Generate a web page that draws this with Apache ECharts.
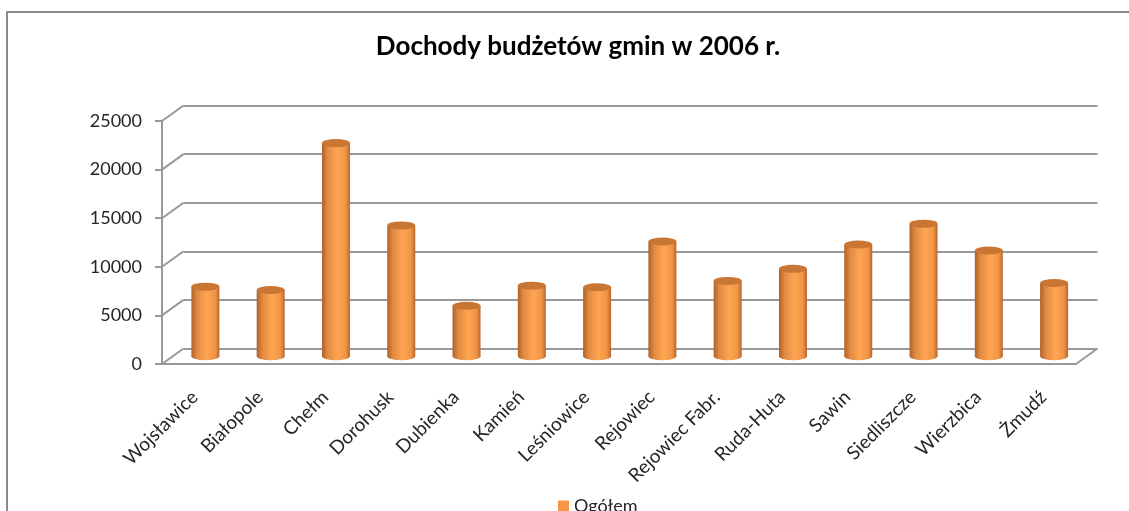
<!DOCTYPE html>
<html>
<head>
<meta charset="utf-8">
<script src="https://cdn.jsdelivr.net/npm/echarts@6/dist/echarts.min.js"></script>
<style>
  html, body { margin: 0; padding: 0; background: #fff; }
  #chart { width: 1129px; height: 511px; }
</style>
</head>
<body>
<div id="chart"></div>
<script>
const categories = ['Wojsławice', 'Białopole', 'Chełm', 'Dorohusk', 'Dubienka', 'Kamień', 'Leśniowice',
  'Rejowiec', 'Rejowiec Fabr.', 'Ruda-Huta', 'Sawin', 'Siedliszcze', 'Wierzbica', 'Żmudź']
const values = [7160, 6820, 21930, 13460, 5200, 7260, 7100, 11810, 7750, 8990, 11500, 13640, 10880, 7540]
const yTicks = [0, 5000, 10000, 15000, 20000, 25000]
const seriesName = 'Ogółem'
const titleText = 'Dochody budżetów gmin w 2006 r.'

// front plane of the 3d box, and the depth offset to the back wall
const front = { left: 162, top: 121, width: 914, height: 243 }
const depth = { dx: 21.5, dy: -15.5 }
const gridColor = '#999999'
const font = 'Lato, "Open Sans", sans-serif'

const chart = echarts.init(document.getElementById('chart'))

const gridAt = k => ({
  left: front.left + depth.dx * k,
  top: front.top + depth.dy * k,
  width: front.width,
  height: front.height,
  outerBoundsMode: 'none'
})

const sideFill = () => new echarts.graphic.LinearGradient(0, 0, 1, 0, [
  { offset: 0, color: '#b0612a' },
  { offset: 0.2, color: '#e08a42' },
  { offset: 0.55, color: '#ffa552' },
  { offset: 0.85, color: '#f09446' },
  { offset: 1, color: '#b5672e' }
])

const renderCylinder = (params, api) => {
  const top = api.coord([api.value(0), api.value(1)])
  const base = api.coord([api.value(0), 0])
  const r = 14
  const ry = 4
  return {
    type: 'group',
    children: [
      { type: 'circle', shape: { cx: 0, cy: 0, r }, x: base[0], y: base[1], scaleY: ry / r,
        style: { fill: sideFill() } },
      { type: 'rect', shape: { x: base[0] - r, y: top[1], width: r * 2, height: base[1] - top[1] },
        style: { fill: sideFill() } },
      { type: 'circle', shape: { cx: 0, cy: 0, r }, x: top[0], y: top[1], scaleY: ry / r,
        style: { fill: '#c97634' } }
    ]
  }
}

const renderDiagonals = (params, api) => {
  const cs = params.coordSys
  const p = api.coord([0, api.value(1)])
  const lineStyle = { stroke: gridColor, lineWidth: 2 }
  const children = [
    { type: 'line', shape: { x1: cs.x, y1: p[1], x2: cs.x + depth.dx, y2: p[1] + depth.dy }, style: lineStyle }
  ]
  if (api.value(1) === 0) {
    const xr = cs.x + cs.width
    children.push({ type: 'line', shape: { x1: xr, y1: p[1], x2: xr + depth.dx, y2: p[1] + depth.dy }, style: lineStyle })
  }
  return { type: 'group', children }
}

const option = {
  backgroundColor: '#fff',
  animation: false,
  title: {
    text: titleText,
    left: 573,
    top: 29,
    textAlign: 'center',
    textStyle: { fontFamily: font, fontSize: 26, fontWeight: 'bold', color: '#000' }
  },
  legend: {
    data: [{ name: seriesName, itemStyle: { color: '#f79646' } }],
    left: 553,
    top: 492,
    icon: 'rect',
    itemWidth: 11,
    itemHeight: 11,
    itemGap: 6,
    textStyle: { fontFamily: font, fontSize: 18, color: '#262626' }
  },
  graphic: [
    { type: 'rect', shape: { x: 7, y: 12, width: 1200, height: 600 },
      style: { fill: 'none', stroke: '#8a8a8a', lineWidth: 2 }, silent: true }
  ],
  grid: [gridAt(0), gridAt(1), gridAt(0.5)],
  xAxis: [
    {
      gridIndex: 0,
      type: 'category',
      data: categories,
      axisLine: { lineStyle: { color: gridColor, width: 2 } },
      axisTick: { length: 7, lineStyle: { color: gridColor, width: 2 } },
      axisLabel: { interval: 0, rotate: 45, margin: 30, fontFamily: font, fontSize: 19, color: '#262626' }
    },
    { gridIndex: 1, type: 'category', data: categories, show: false },
    { gridIndex: 2, type: 'category', data: categories, show: false }
  ],
  yAxis: [
    {
      gridIndex: 0,
      type: 'value',
      min: 0,
      max: 25000,
      interval: 5000,
      axisLine: { show: true, lineStyle: { color: gridColor, width: 2 } },
      axisTick: { show: true, length: 7, lineStyle: { color: gridColor, width: 2 } },
      axisLabel: { margin: 20, fontFamily: font, fontSize: 18, color: '#262626', formatter: v => String(v) },
      splitLine: { show: false }
    },
    {
      gridIndex: 1,
      type: 'value',
      min: 0,
      max: 25000,
      interval: 5000,
      axisLine: { show: false },
      axisTick: { show: false },
      axisLabel: { show: false },
      splitLine: { show: true, lineStyle: { color: gridColor, width: 2 } }
    },
    { gridIndex: 2, type: 'value', min: 0, max: 25000, interval: 5000, show: false }
  ],
  series: [
    {
      type: 'custom',
      name: 'frame',
      xAxisIndex: 0,
      yAxisIndex: 0,
      silent: true,
      renderItem: renderDiagonals,
      data: yTicks.map(v => [0, v])
    },
    {
      type: 'custom',
      name: seriesName,
      xAxisIndex: 2,
      yAxisIndex: 2,
      itemStyle: { color: '#f79646' },
      renderItem: renderCylinder,
      encode: { x: 0, y: 1 },
      data: values.map((v, i) => [i, v])
    }
  ]
}

chart.setOption(option)
</script>
</body>
</html>
